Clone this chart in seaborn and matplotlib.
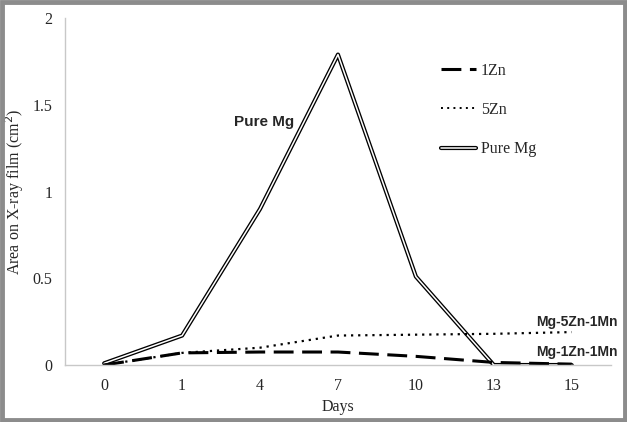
import pandas as pd
import numpy as np
import seaborn as sns
import matplotlib.pyplot as plt
from matplotlib.lines import Line2D
from matplotlib.patches import Rectangle
import matplotlib.patheffects as pe

# ---- data ----
days = ["0", "1", "4", "7", "10", "13", "15"]
pure_mg = [0.01, 0.17, 0.90, 1.79, 0.51, 0.00, 0.00]
zn5 = [0.00, 0.07, 0.10, 0.17, 0.175, 0.18, 0.19]
zn1 = [0.00, 0.07, 0.075, 0.075, 0.05, 0.015, 0.005]

df = pd.DataFrame({"Days": days, "Pure Mg": pure_mg, "5Zn": zn5, "1Zn": zn1})

sns.set_style("white")
plt.rcParams['font.family'] = ['Liberation Serif', 'DejaVu Serif']

fig = plt.figure(figsize=(6.27, 4.22), dpi=100)
ax = fig.add_axes([0.104, 0.135, 0.870, 0.822])

# double line for pure Mg: thick black under thin white
sns.lineplot(data=df, x="Days", y="Pure Mg", ax=ax, color="black", lw=3.0, sort=False)
sns.lineplot(data=df, x="Days", y="Pure Mg", ax=ax, color="white", lw=1.1, sort=False)
sns.lineplot(data=df, x="Days", y="5Zn", ax=ax, color="black", lw=1.6, sort=False,
             linestyle=(0, (1, 2.2)))
sns.lineplot(data=df, x="Days", y="1Zn", ax=ax, color="black", lw=2.2, sort=False,
             linestyle=(0, (6.5, 2.8)))

ax.set_xlim(-0.5, 6.5)
ax.set_ylim(0, 2)
ax.set_yticks([0, 0.5, 1, 1.5, 2])
ax.set_yticklabels(["0", "0.5", "1", "1.5", "2"])
ax.tick_params(length=0, labelsize=11.5)
ax.tick_params(axis="y", pad=9)
ax.tick_params(axis="x", pad=9)
ax.set_xlabel("Days", fontsize=11.5, labelpad=4)
ax.set_ylabel("Area on X-ray film (cm$^2$)", fontsize=11.5, labelpad=5)

for s in ["top", "right"]:
    ax.spines[s].set_visible(False)
for s in ["left", "bottom"]:
    ax.spines[s].set_color("#c8c8c8")
    ax.spines[s].set_linewidth(1)

# annotations
ax.text(2.05, 1.40, "Pure Mg", fontsize=11, fontweight="bold", family="Liberation Sans",
        ha="center", va="center")
fig.text(536 / 627, 1 - 322 / 422, "Mg-5Zn-1Mn", fontsize=10, fontweight="bold",
         family="Liberation Sans", ha="left", va="center")
fig.text(536 / 627, 1 - 352 / 422, "Mg-1Zn-1Mn", fontsize=10, fontweight="bold",
         family="Liberation Sans", ha="left", va="center")

# legend
h1 = Line2D([], [], color="black", lw=2.2, linestyle=(0, (6.5, 2.8)))
h2 = Line2D([], [], color="black", lw=1.4, linestyle=(0, (1, 2.2)))
h3 = Line2D([], [], color="white", lw=1.1,
            path_effects=[pe.Stroke(linewidth=3.0, foreground="black"), pe.Normal()])
fig.legend([h1, h2, h3], ["1Zn", "5Zn", "Pure Mg"], loc="upper left",
           bbox_to_anchor=(0.68, 0.885), frameon=False, fontsize=11.5,
           handlelength=2.2, handletextpad=0.3, labelspacing=1.45)

# gray frame around the figure
fig.patches.append(Rectangle((0.003, 0.004), 0.994, 0.992, transform=fig.transFigure,
                             fill=False, edgecolor="#8c8c8c", lw=3.5))

fig.savefig("out.png", dpi=100)
